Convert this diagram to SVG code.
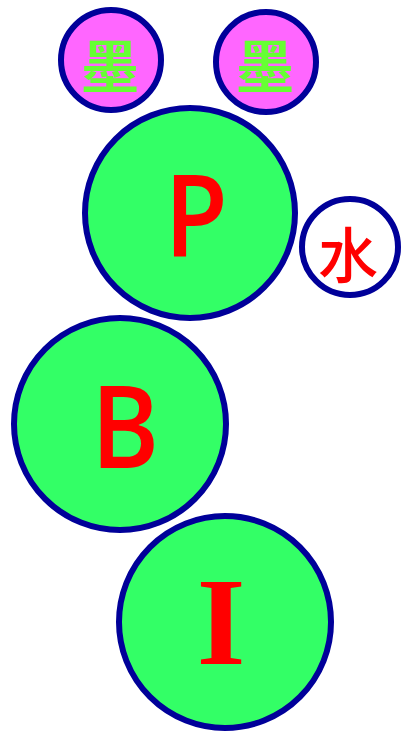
<svg xmlns="http://www.w3.org/2000/svg" width="404" height="732" viewBox="0 0 404 732">
<style>
.c{stroke:#000099;stroke-width:6}
.g{fill:#33ff66}
.m{fill:#ff66ff}
.w{fill:#ffffff}
.lat{font-family:"Open Sans","DejaVu Sans",sans-serif;font-weight:600;fill:#ff0000;text-anchor:middle}
.ser{font-family:"Liberation Serif",serif;font-weight:bold;fill:#ff0000;text-anchor:middle}
.cjk{font-family:"Noto Sans CJK SC","Noto Sans CJK JP",sans-serif;text-anchor:middle}
</style>
<rect width="404" height="732" fill="#ffffff"/>
<g id="connectors"></g>
<g id="mo1"><circle class="c m" cx="111" cy="60" r="50"/><text class="cjk" x="110" y="88" font-size="58" font-weight="bold" fill="#66ff33">墨</text></g>
<g id="mo2"><circle class="c m" cx="266" cy="62" r="50"/><text class="cjk" x="265" y="88" font-size="58" font-weight="bold" fill="#66ff33">墨</text></g>
<g id="P"><circle class="c g" cx="190" cy="213" r="105"/><text class="lat" transform="translate(196,257) scale(0.9,1)" font-size="115">P</text></g>
<g id="shui"><circle class="c w" cx="350" cy="247" r="48"/><text class="cjk" x="348" y="278" font-size="60" font-weight="500" fill="#ff0000">水</text></g>
<g id="B"><circle class="c g" cx="120" cy="424" r="106"/><text class="lat" transform="translate(125,468) scale(0.9,1)" font-size="115">B</text></g>
<g id="I"><circle class="c g" cx="225" cy="622" r="106"/><text class="ser" x="221" y="664" font-size="125">I</text></g>
</svg>
